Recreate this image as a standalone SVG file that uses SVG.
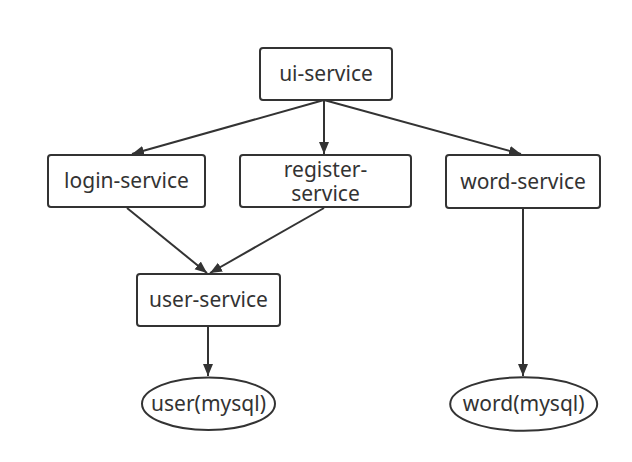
<svg xmlns="http://www.w3.org/2000/svg" width="632" height="462" viewBox="0 0 632 462">
<style>
.box{fill:#fff;stroke:#333;stroke-width:2}
.lbl{font-family:"Noto Sans","Open Sans","Liberation Sans",sans-serif;font-size:21px;fill:#333;text-anchor:middle;dominant-baseline:central}
.edge{stroke:#333;stroke-width:2;fill:none;marker-end:url(#ah)}
</style>
<defs>
<marker id="ah" markerUnits="userSpaceOnUse" markerWidth="14" markerHeight="12" refX="12" refY="5" orient="auto">
<path d="M0,0 L12,5 L0,10 Z" fill="#333"/>
</marker>
</defs>
<rect width="632" height="462" fill="#fff"/>
<g id="edges">
<path class="edge" d="M324,100 L132,154"/>
<path class="edge" d="M324,100 L324,154"/>
<path class="edge" d="M324,100 L521,154"/>
<path class="edge" d="M127,208 L207,273"/>
<path class="edge" d="M324,208 L210,273"/>
<path class="edge" d="M208,326 L208,376"/>
<path class="edge" d="M523,208 L523,376"/>
</g>
<g id="ui-service"><rect class="box" x="260" y="48" width="132" height="52" rx="3"/><text class="lbl" x="326" y="73">ui-service</text></g>
<g id="login-service"><rect class="box" x="48" y="155" width="157" height="52" rx="3"/><text class="lbl" x="126.5" y="180">login-service</text></g>
<g id="register-service"><rect class="box" x="240" y="155" width="171" height="52" rx="3"/><text class="lbl" x="325.5" y="169">register-</text><text class="lbl" x="325.5" y="193">service</text></g>
<g id="word-service"><rect class="box" x="446" y="155" width="154" height="53" rx="3"/><text class="lbl" x="523" y="180.5">word-service</text></g>
<g id="user-service"><rect class="box" x="137" y="274" width="143" height="52" rx="3"/><text class="lbl" x="208.5" y="299">user-service</text></g>
<g id="user-mysql"><ellipse class="box" cx="208.5" cy="403.7" rx="66.5" ry="26.3"/><text class="lbl" x="208.5" y="403">user(mysql)</text></g>
<g id="word-mysql"><ellipse class="box" cx="523.7" cy="404" rx="73.5" ry="26.7"/><text class="lbl" x="523.7" y="403">word(mysql)</text></g>
</svg>
